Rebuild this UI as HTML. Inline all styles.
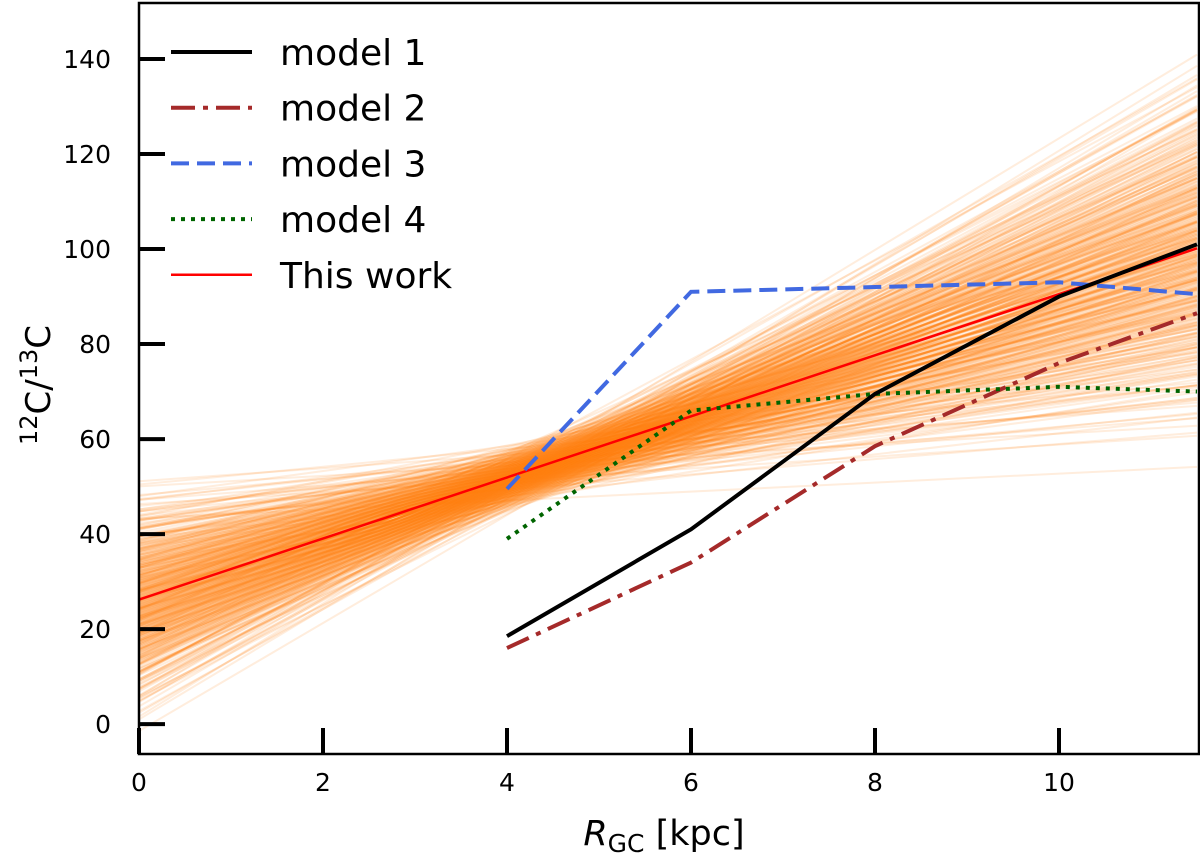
<!DOCTYPE html>
<html><head><meta charset="utf-8"><style>
body{margin:0;background:#fff}
svg text{font-family:"DejaVu Sans","Liberation Sans",sans-serif}
</style></head><body>
<svg width="1200" height="858" viewBox="0 0 1200 858">
<defs><clipPath id="c"><rect x="139" y="3" width="1060" height="751"/></clipPath></defs>
<g id="fan" clip-path="url(#c)"></g>
<g id="series" clip-path="url(#c)"></g>
<g id="axes"></g>
<g id="legend"></g>
</svg>
<script>
const xTicks=[0,2,4,6,8,10];
const yTicks=[0,20,40,60,80,100,120,140];
const modelR=[4,6,8,10,11.5];
const model1=[18.5,41,69.5,90,101];
const model2=[16,34,58.5,76,86.5];
const model3=[49.5,91,92,93,90.5];
const model4=[39,66,69.5,71,70];
const thisWorkIntercept=26.2;
const thisWorkSlope=6.43;
const fanPivotX=4.4, fanPivotY=54, fanSlopeSD=2.4, fanPivotSD=3.2;

const L=139,R=1197,T=3,B=754,XMIN=0,XMAX=11.5,YMIN=-6.3,YMAX=151.8;
const sx=v=>L+(v-XMIN)/(XMAX-XMIN)*(R-L);
const sy=v=>B-(v-YMIN)/(YMAX-YMIN)*(B-T);
const NS='http://www.w3.org/2000/svg';
function mk(t,a,p){const e=document.createElementNS(NS,t);for(const k in a)e.setAttribute(k,a[k]);p.appendChild(e);return e;}
function erfinv(x){const a=0.147,ln=Math.log(1-x*x),t=2/(Math.PI*a)+ln/2;return Math.sign(x)*Math.sqrt(Math.sqrt(t*t-ln/a)-t);}

const fan=document.getElementById('fan');
const N=450;
for(let i=0;i<N;i++){
  const u=0.01+0.98*(i+0.5)/N;
  const z=Math.sqrt(2)*erfinv(2*u-1);
  const w=0.02+0.96*((i*0.618034)%1);
  const v=Math.sqrt(2)*erfinv(2*w-1);
  const s=thisWorkSlope+z*fanSlopeSD;
  const py=fanPivotY+v*fanPivotSD;
  const y0=py-fanPivotX*s, y1=py+(XMAX-fanPivotX)*s;
  const ln=mk('line',{x1:sx(0),y1:sy(y0),x2:sx(XMAX),y2:sy(y1),stroke:'#ff7f0e','stroke-opacity':0.14,'stroke-width':2},fan);
  
  
}

const ser=document.getElementById('series');
function poly(ys,col,dash,w,name){
  const p=mk('polyline',{points:modelR.map((r,i)=>sx(r)+','+sy(ys[i])).join(' '),fill:'none',stroke:col,'stroke-width':w,'stroke-dasharray':dash},ser);
  
  
}
const tw=mk('line',{x1:sx(0),y1:sy(thisWorkIntercept),x2:sx(XMAX),y2:sy(thisWorkIntercept+thisWorkSlope*XMAX),stroke:'#ff0000','stroke-width':2.5},ser);


poly(model2,'#a52a2a','24 8 5 8',4,'model-2-line');
poly(model3,'#4169e1','18 8',4,'model-3-line');
poly(model4,'#006400','4 6',4,'model-4-line');
poly(model1,'#000','none',4,'model-1-line');

const ax=document.getElementById('axes');
const fr=mk('rect',{x:L,y:T,width:R-L+2,height:B-T,fill:'none',stroke:'#000','stroke-width':2.5},ax);

xTicks.forEach(t=>{
  const l=mk('line',{x1:sx(t),x2:sx(t),y1:B,y2:B-26,stroke:'#000','stroke-width':4},ax);
  
  const tx=mk('text',{x:sx(t),y:B+37,'font-size':25,'text-anchor':'middle'},ax);tx.textContent=t;
  
});
yTicks.forEach(t=>{
  const l=mk('line',{x1:L,x2:L+26,y1:sy(t),y2:sy(t),stroke:'#000','stroke-width':4},ax);
  
  const tx=mk('text',{x:111,y:sy(t)+9,'font-size':25,'text-anchor':'end'},ax);tx.textContent=t;
  
});
const xt=mk('text',{x:664,y:845,'font-size':35,'text-anchor':'middle'},ax);
xt.innerHTML='<tspan font-style="italic">R</tspan><tspan font-size="25" dy="7">GC</tspan><tspan dy="-7"> [kpc]</tspan>';

const yt=mk('text',{transform:'translate(50,385) rotate(-90)','font-size':34,'text-anchor':'middle'},ax);
yt.innerHTML='<tspan font-size="24" dy="-13">12</tspan><tspan dy="13">C/</tspan><tspan font-size="24" dy="-13">13</tspan><tspan dy="13">C</tspan>';


const lg=document.getElementById('legend');
const entries=[['model 1','#000','none',4],['model 2','#a52a2a','24 8 5 8',4],['model 3','#4169e1','18 8',4],['model 4','#006400','4 6',4],['This work','#ff0000','none',2.5]];
entries.forEach((e,i)=>{
  const y=52+i*55.7;
  const l=mk('line',{x1:171,x2:252,y1:y,y2:y,stroke:e[1],'stroke-width':e[3],'stroke-dasharray':e[2]},lg);
  
  const t=mk('text',{x:280,y:y+13,'font-size':36},lg);t.textContent=e[0];
  
});
</script>
</body></html>
